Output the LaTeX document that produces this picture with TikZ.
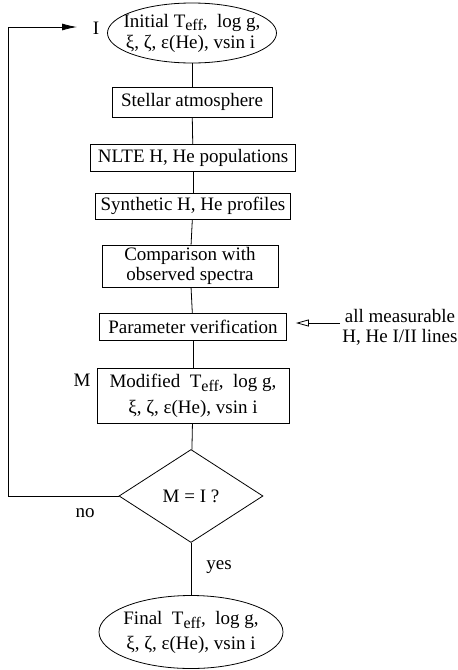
\documentclass[tikz,border=0pt]{standalone}
\usepackage{fontspec}
\setmainfont{Liberation Serif}
\usetikzlibrary{arrows.meta, shapes.geometric, positioning}
\newcommand{\Teff}{T\raisebox{-0.45ex}{\fontsize{16}{16}\selectfont eff}}

\begin{document}
\begin{tikzpicture}[x=1pt, y=-1pt,
        >={Latex[length=15pt,width=7pt]},   %Pfeilspitzen
        line width=0.8pt,
        font=\fontsize{19}{20}\selectfont,
        kasten/.style={draw, rectangle, inner sep=0pt, align=center},
        oval/.style={draw, ellipse, inner sep=0pt},
        raute/.style={draw, diamond, aspect=1.55, inner sep=0pt, minimum width=144pt, minimum height=93pt}]
        % Bildbereich
        \useasboundingbox (0,0) rectangle (458,670);
        % Startwerte
        \node[oval, minimum width=169pt, minimum height=60pt,
              label={[align=center, inner sep=0pt]center:Initial \Teff, \ log g,\\[1pt]$\!$ξ, ζ, ε(He), vsin i}] (init) at (192,33) {};
        \node (labI) at (96,28) {I};
        % Rechenschritte
        \node[kasten, minimum width=160pt, minimum height=30pt] (atmos) at (192,102) {Stellar atmosphere};
        \node[kasten, minimum width=205pt, minimum height=27pt] (nlte) at (193,158) {NLTE H, He populations};
        \node[kasten, minimum width=195pt, minimum height=26pt] (synth) at (193,206) {Synthetic H, He profiles};
        \node[kasten, minimum width=176pt, minimum height=42pt] (compar) at (190,266) {Comparison with\\observed spectra};
        \node[kasten, minimum width=187pt, minimum height=27pt] (verif) at (193,327) {Parameter verification};
        \node[kasten, minimum width=192pt, minimum height=55pt] (modif) at (193,396) {Modified \ \Teff, \ log g,\\[6pt]ξ, ζ, ε(He), vsin i};
        \node (labM) at (82,380) {M};
        % Linien
        \node[align=center, inner sep=0pt] (mess) at (400,327) {all measurable\\H, He I/II lines};
        % Abfrage
        \node[raute] (test) at (191,496) {M = I ?};
        \node[oval, minimum width=184pt, minimum height=73pt,
              label={[align=center, inner sep=0pt]center:Final \ \Teff, \ log g,\\[5pt]ξ, ζ, ε(He), vsin i}] (final) at (191,632) {};
        \node (nein) at (85,513) {no};
        \node (ja) at (219,567) {yes};
        % Verbindungen
        \foreach \a/\b in {init/atmos, atmos/nlte, nlte/synth, synth/compar, compar/verif, verif/modif, modif/test, test/final}
            \draw (\a) -- (\b);
        \draw[-{Triangle[open,length=13pt,width=7pt]}] ([xshift=-2pt,yshift=4pt]mess.west) coordinate (messpfeil)
            -- ([xshift=9pt]messpfeil -| verif.east);
        % Schleife
        \coordinate (ecke) at (8,27);
        \draw[->, shorten >=19pt] (test.west) -| (ecke) -- (ecke -| labI);
\end{tikzpicture}
\end{document}
